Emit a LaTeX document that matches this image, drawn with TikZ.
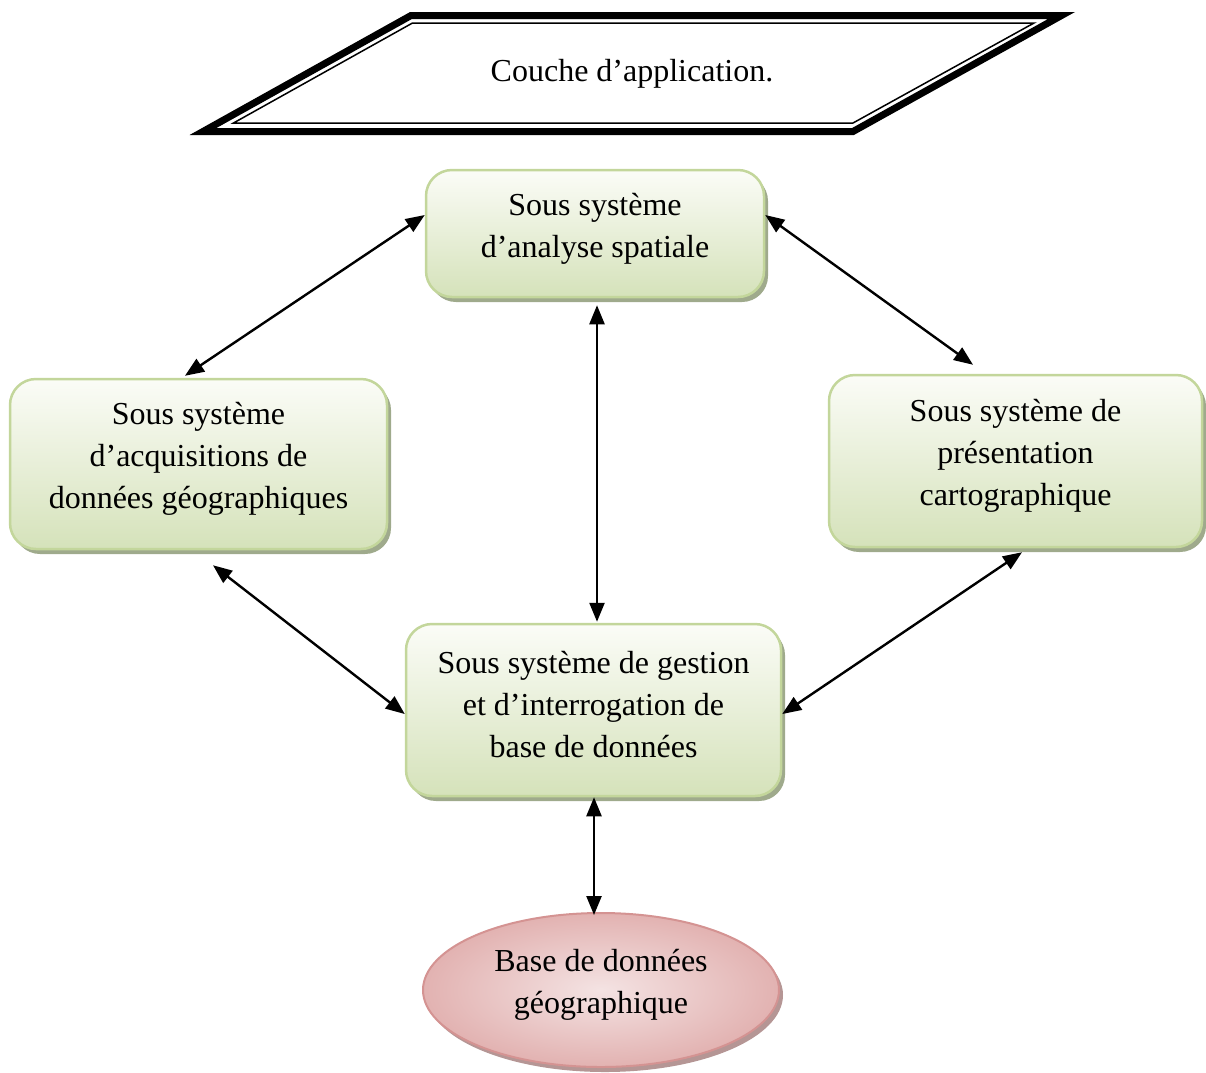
\documentclass[tikz,border=0pt]{standalone}
\usepackage{fontspec}
\setmainfont{Liberation Serif}
\usetikzlibrary{arrows.meta,shapes.geometric,shadows,calc}
\definecolor{boxtop}{HTML}{FBFCF7}
\definecolor{boxbot}{HTML}{D5E2BA}
\definecolor{boxline}{HTML}{C3D69B}
\definecolor{boxshadow}{HTML}{9FAA8C}
\definecolor{dbin}{HTML}{F4E3E3}
\definecolor{dbout}{HTML}{E2B2B1}
\definecolor{dbline}{HTML}{D49392}
\definecolor{dbshadow}{HTML}{B59695}
\begin{document}
\begin{tikzpicture}[x=1pt,y=-1pt,
  box/.style={draw=boxline, line width=2.5pt, rounded corners=26pt,
    top color=boxtop, bottom color=boxbot, inner sep=0pt,
    drop shadow={shadow xshift=4pt,shadow yshift=-5pt,fill=boxshadow,opacity=1}},
  dbnode/.style={ellipse, draw=dbline, line width=2pt, inner color=dbin, outer color=dbout,
    inner sep=0pt,
    drop shadow={shadow xshift=4pt,shadow yshift=-5pt,fill=dbshadow,opacity=1}},
  txt/.style={align=center, font=\fontsize{32}{42}\selectfont, inner sep=0pt},
  arr/.style={line width=2.4pt, {Triangle[length=19pt 0 0,width=15pt 0 0]}-{Triangle[length=19pt 0 0,width=15pt 0 0]}}
]
\useasboundingbox (0,0) rectangle (1206,1072);

% application layer parallelogram
\coordinate (p1) at (411,15.5);
\coordinate (p2) at (1061.5,15.5);
\coordinate (p3) at (853,131.5);
\coordinate (p4) at (203,131.5);
\coordinate (q1) at (412.5,23);
\coordinate (q2) at (1034,23);
\coordinate (q3) at (853,123);
\coordinate (q4) at (233.5,123);
\draw[line width=7pt, line join=miter, fill=white] (p1) -- (p2) -- (p3) -- (p4) -- cycle;
\draw[line width=1.5pt, line join=miter] (q1) -- (q2) -- (q3) -- (q4) -- cycle;
\node[txt] (app) at (632,73.5) {Couche d’application.};

% boxes
\node[box, minimum width=338pt, minimum height=127pt] (an) at (595,233.5) {};
\node[txt] (anT) at ([yshift=5pt]an.center) {Sous système\\d’analyse spatiale};

\node[box, minimum width=377pt, minimum height=170pt] (acq) at (198.5,464) {};
\node[txt] (acqT) at ([yshift=5pt]acq.center) {Sous système\\d’acquisitions de\\données géographiques};

\node[box, minimum width=373pt, minimum height=172pt] (pre) at (1015.5,461) {};
\node[txt] (preT) at ([yshift=5pt]pre.center) {Sous système de\\présentation\\cartographique};

\node[box, minimum width=375pt, minimum height=172pt] (ges) at (593.5,710) {};
\node[txt] (gesT) at ([yshift=5pt]ges.center) {Sous système de gestion\\et d’interrogation de\\base de données};

\node[dbnode, minimum width=356pt, minimum height=154pt] (db) at (601,990) {};
\node[txt] (dbT) at ([yshift=5pt]db.center) {Base de données\\géographique};

% connectors
\draw[arr] ([yshift=18.5pt]an.west) -- ([xshift=-13.5pt,yshift=2pt]acq.north);
\draw[arr] ([yshift=18.5pt]an.east) -- ([xshift=-42.5pt,yshift=9pt]pre.north);
\draw[arr] ([xshift=2pt,yshift=-7pt]an.south) -- ([xshift=3.5pt,yshift=1pt]ges.north);
\draw[arr] ([xshift=14.5pt,yshift=-15pt]acq.south) -- ([yshift=-4pt]ges.west);
\draw[arr] ([xshift=6.5pt,yshift=-4pt]pre.south) -- ([yshift=-4pt]ges.east);
\draw[arr] ([xshift=0.5pt]ges.south) -- ($(ges.south |- db.north)+(0.5,3)$);
\end{tikzpicture}
\end{document}
